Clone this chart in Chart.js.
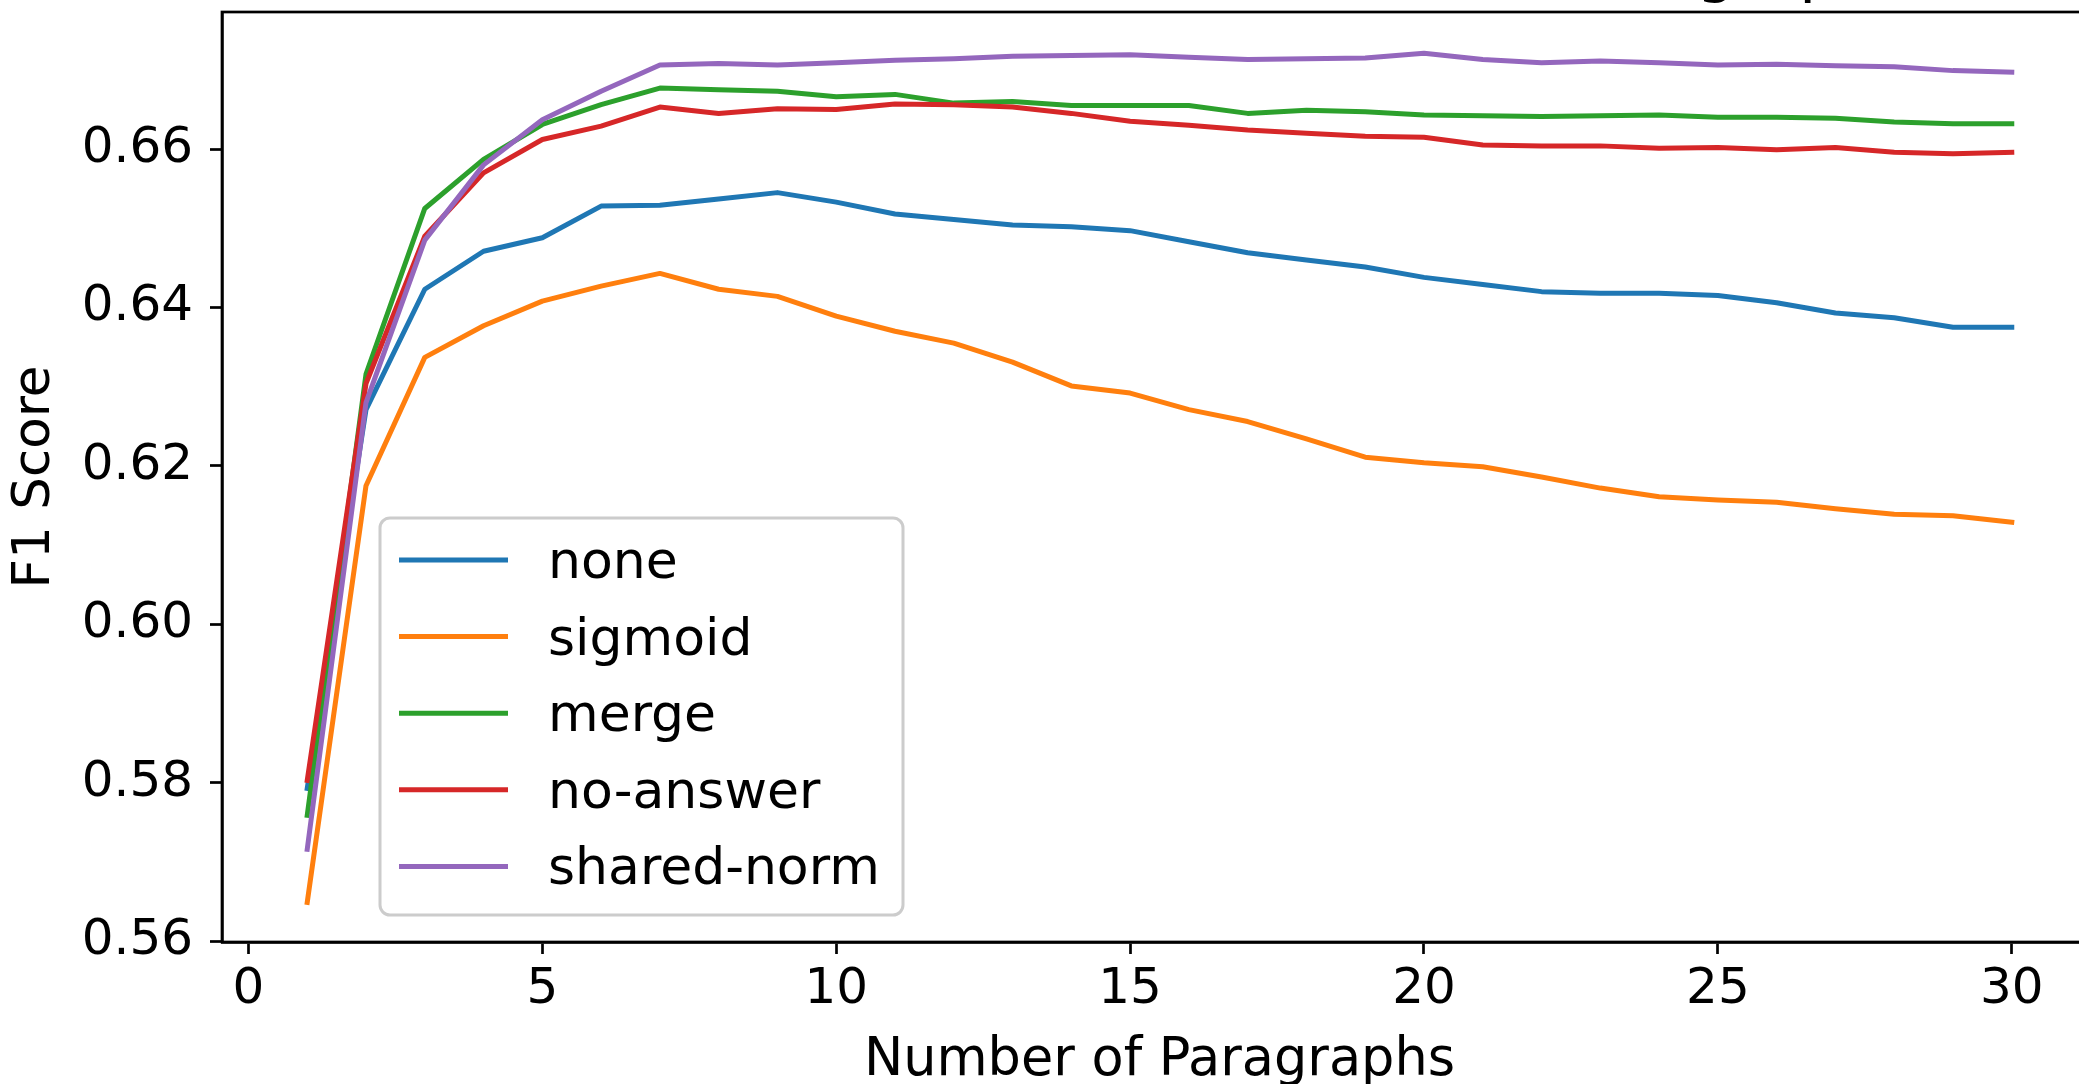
<!DOCTYPE html>
<html>
<head>
<meta charset="utf-8">
<script src="https://cdn.jsdelivr.net/npm/chart.js@4.4.1/dist/chart.umd.min.js"></script>
<style>
  html, body { margin: 0; padding: 0; background: #ffffff; overflow: hidden; width: 2079px; height: 1084px; }
  #wrap { position: absolute; left: 0; top: -60px; width: 2200px; height: 1144px; }
  canvas { display: block; }
</style>
</head>
<body>
<div id="wrap"><canvas id="chart" width="2200" height="1144"></canvas></div>
<script>
// Number of paragraphs fed to the model
const paragraphs = [1,2,3,4,5,6,7,8,9,10,11,12,13,14,15,16,17,18,19,20,21,22,23,24,25,26,27,28,29,30];

// F1 score per confidence method
const noneF1 = [0.5793,0.6271,0.6423,0.6471,0.6488,0.6528,0.6529,0.6537,0.6545,0.6533,
                0.6518,0.6511,0.6504,0.6502,0.6497,0.6483,0.6469,0.6460,0.6451,0.6438,
                0.6429,0.6420,0.6418,0.6418,0.6415,0.6406,0.6393,0.6387,0.6375,0.6375];
const sigmoidF1 = [0.5649,0.6175,0.6337,0.6377,0.6408,0.6427,0.6443,0.6423,0.6414,0.6389,
                   0.6370,0.6355,0.6331,0.6301,0.6292,0.6271,0.6256,0.6234,0.6211,0.6204,
                   0.6199,0.6186,0.6172,0.6161,0.6157,0.6154,0.6146,0.6139,0.6137,0.6129];
const mergeF1 = [0.5759,0.6316,0.6525,0.6587,0.6631,0.6656,0.6677,0.6675,0.6673,0.6666,
                 0.6669,0.6658,0.6660,0.6655,0.6655,0.6655,0.6645,0.6649,0.6647,0.6643,
                 0.6642,0.6641,0.6642,0.6643,0.6640,0.6640,0.6639,0.6634,0.6632,0.6632];
const noAnswerF1 = [0.5803,0.6304,0.6490,0.6570,0.6612,0.6629,0.6653,0.6645,0.6651,0.6650,
                    0.6657,0.6656,0.6653,0.6645,0.6635,0.6630,0.6624,0.6620,0.6616,0.6615,
                    0.6605,0.6604,0.6604,0.6601,0.6602,0.6599,0.6602,0.6596,0.6594,0.6596];
const sharedNormF1 = [0.5716,0.6280,0.6485,0.6580,0.6637,0.6673,0.6706,0.6708,0.6706,0.6709,
                      0.6712,0.6714,0.6717,0.6718,0.6719,0.6716,0.6713,0.6714,0.6715,0.6721,
                      0.6713,0.6709,0.6711,0.6709,0.6706,0.6707,0.6705,0.6704,0.6699,0.6697];

const seriesNames = ['none', 'sigmoid', 'merge', 'no-answer', 'shared-norm'];
const seriesValues = [noneF1, sigmoidF1, mergeF1, noAnswerF1, sharedNormF1];
const seriesColors = ['#1f77b4', '#ff7f0e', '#2ca02c', '#d62728', '#9467bd'];

// Tick labels
const xTickValues = [0, 5, 10, 15, 20, 25, 30];
const yTickValues = [0.56, 0.58, 0.60, 0.62, 0.64, 0.66];

// Axis limits
const xLimits = [-0.45, 31.45];
const yLimits = [0.5599, 0.6773];

const titleText = 'TriviaQA Unfiltered: F1 vs Number of Paragraphs';
const FONT = 'DejaVu Sans';
const LINE_W = 5;

const datasets = seriesNames.map((name, i) => ({
  label: name,
  data: paragraphs.map((p, j) => ({ x: p, y: seriesValues[i][j] })),
  borderColor: seriesColors[i],
  backgroundColor: seriesColors[i],
  borderWidth: LINE_W,
  borderCapStyle: 'square',
  borderJoinStyle: 'round',
  pointRadius: 0,
  tension: 0,
  fill: false,
  order: seriesNames.length - i
}));

// Frame around the plotting area (top and right spines)
const framePlugin = {
  id: 'frame',
  afterDatasetsDraw(chart) {
    const { ctx, chartArea: a } = chart;
    ctx.save();
    ctx.strokeStyle = '#000';
    ctx.lineWidth = 2.7;
    ctx.strokeRect(a.left, a.top, a.right - a.left, a.bottom - a.top);
    ctx.restore();
  }
};

// Heading above the plotting area
const headingPlugin = {
  id: 'heading',
  afterDraw(chart) {
    const { ctx, chartArea: a } = chart;
    ctx.save();
    ctx.font = '62px "' + FONT + '"';
    ctx.fillStyle = '#000';
    ctx.textAlign = 'center';
    ctx.textBaseline = 'alphabetic';
    ctx.fillText(titleText, (a.left + a.right) / 2, a.top - 22);
    ctx.restore();
  }
};

// Boxed legend in the lower-left part of the plotting area
const boxLegendPlugin = {
  id: 'boxLegend',
  afterDraw(chart) {
    const { ctx, chartArea: a } = chart;
    const ds = chart.data.datasets;
    const boxX = a.left + 158, boxW = 523, boxH = 397;
    const boxY = a.bottom - 27 - boxH;
    const r = 10;
    ctx.save();
    ctx.beginPath();
    ctx.moveTo(boxX + r, boxY);
    ctx.lineTo(boxX + boxW - r, boxY);
    ctx.arcTo(boxX + boxW, boxY, boxX + boxW, boxY + r, r);
    ctx.lineTo(boxX + boxW, boxY + boxH - r);
    ctx.arcTo(boxX + boxW, boxY + boxH, boxX + boxW - r, boxY + boxH, r);
    ctx.lineTo(boxX + r, boxY + boxH);
    ctx.arcTo(boxX, boxY + boxH, boxX, boxY + boxH - r, r);
    ctx.lineTo(boxX, boxY + r);
    ctx.arcTo(boxX, boxY, boxX + r, boxY, r);
    ctx.closePath();
    ctx.fillStyle = 'rgba(255,255,255,0.8)';
    ctx.fill();
    ctx.strokeStyle = '#cccccc';
    ctx.lineWidth = 3;
    ctx.stroke();

    ctx.font = '52px "' + FONT + '"';
    ctx.textAlign = 'left';
    ctx.textBaseline = 'alphabetic';
    ds.forEach((d, i) => {
      const rowY = boxY + 42 + i * 76.6;
      ctx.beginPath();
      ctx.moveTo(boxX + 19, rowY);
      ctx.lineTo(boxX + 128, rowY);
      ctx.strokeStyle = d.borderColor;
      ctx.lineWidth = LINE_W;
      ctx.lineCap = 'butt';
      ctx.stroke();
      ctx.fillStyle = '#000';
      ctx.fillText(d.label, boxX + 168, rowY + 18);
    });
    ctx.restore();
  }
};

new Chart(document.getElementById('chart'), {
  type: 'line',
  data: { datasets },
  plugins: [framePlugin, boxLegendPlugin, headingPlugin],
  options: {
    responsive: false,
    animation: false,
    devicePixelRatio: 1,
    layout: { padding: { top: 72, right: 103, left: 0, bottom: 0 } },
    plugins: { legend: { display: false }, tooltip: { enabled: false }, title: { display: false } },
    scales: {
      x: {
        type: 'linear',
        min: xLimits[0],
        max: xLimits[1],
        afterBuildTicks: s => { s.ticks = xTickValues.map(v => ({ value: v })); },
        afterFit: s => { s.height = 142; },
        ticks: {
          autoSkip: false, maxRotation: 0,
          color: '#000', padding: 6,
          font: { family: FONT, size: 50 },
          callback: v => String(v)
        },
        grid: { drawOnChartArea: false, drawTicks: true, tickLength: 12, tickWidth: 2.7, tickColor: '#000' },
        border: { display: true, color: '#000', width: 2.7 },
        title: {
          display: true, text: 'Number of Paragraphs', color: '#000',
          font: { family: FONT, size: 52.5, lineHeight: 1 }, padding: { top: 0, bottom: -4 }
        }
      },
      y: {
        type: 'linear',
        min: yLimits[0],
        max: yLimits[1],
        afterBuildTicks: s => { s.ticks = yTickValues.map(v => ({ value: v })); },
        afterFit: s => { s.width = 222; },
        ticks: {
          autoSkip: false,
          color: '#000', padding: 17,
          font: { family: FONT, size: 50 },
          callback: v => v.toFixed(2)
        },
        grid: { drawOnChartArea: false, drawTicks: true, tickLength: 12, tickWidth: 2.7, tickColor: '#000' },
        border: { display: true, color: '#000', width: 2.7 },
        title: {
          display: true, text: 'F1 Score', color: '#000',
          font: { family: FONT, size: 51.5, lineHeight: 1 }, padding: { top: 10, bottom: 0 }
        }
      }
    }
  }
});
</script>
</body>
</html>
